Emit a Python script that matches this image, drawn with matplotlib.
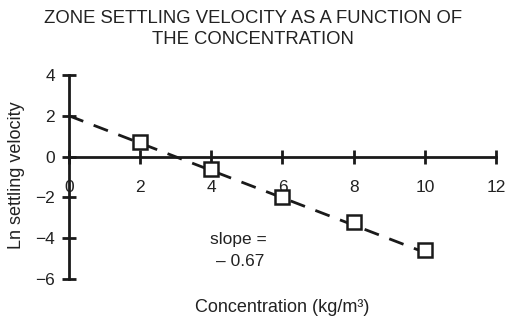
import matplotlib
matplotlib.use("Agg")
import matplotlib.pyplot as plt
import numpy as np

plt.rcParams['font.family'] = ['Liberation Sans', 'DejaVu Sans']

concentration = [2, 4, 6, 8, 10]
ln_velocity = [0.7, -0.6, -2.0, -3.2, -4.6]
fit_x = [0, 10]
fit_y = [2.0, -4.7]
x_ticks = [0, 2, 4, 6, 8, 10, 12]
y_ticks = [-6, -4, -2, 0, 2, 4]
y_tick_labels = ['\u22126', '\u22124', '\u22122', '0', '2', '4']

FS = 13
TC = '#222222'

fig = plt.figure(figsize=(5.06, 3.22), dpi=100)
W, H = 506, 322
ax = fig.add_axes([69 / W, 1 - 279 / H, (496 - 69) / W, (279 - 75) / H])
ax.set_xlim(0, 12)
ax.set_ylim(-6, 4)

ax.plot(fit_x, fit_y, color='#1a1a1a', lw=2, dashes=(5.5, 4), zorder=2)
ax.plot(concentration, ln_velocity, ls='none', marker='s', ms=10.5,
        mfc='white', mec='#1a1a1a', mew=1.8, zorder=3)

for s in ['top', 'right']:
    ax.spines[s].set_visible(False)
ax.spines['left'].set_position(('data', 0))
ax.spines['bottom'].set_position(('data', 0))
for s in ['left', 'bottom']:
    ax.spines[s].set_linewidth(2)
    ax.spines[s].set_color('#1a1a1a')

ax.set_xticks(x_ticks)
ax.set_yticks(y_ticks)
ax.set_yticklabels(y_tick_labels)
ax.tick_params(axis='both', direction='inout', length=10, width=2, color='#1a1a1a',
               labelsize=12.5, labelcolor=TC)
ax.tick_params(axis='x', pad=12)
ax.tick_params(axis='y', pad=5)

ax.text(4.75, -4.05, 'slope =', ha='center', va='center', fontsize=FS - 0.5, color=TC)
ax.text(4.8, -5.15, '\u2013 0.67', ha='center', va='center', fontsize=FS - 0.5, color=TC)

fig.text(253 / W, 1 - 23 / H, 'ZONE SETTLING VELOCITY AS A FUNCTION OF', ha='center', va='baseline',
         fontsize=13.3, color=TC)
fig.text(253 / W, 1 - 44 / H, 'THE CONCENTRATION', ha='center', va='baseline',
         fontsize=13.3, color=TC)
fig.text(282 / W, 1 - 312 / H, 'Concentration (kg/m\u00b3)', ha='center', va='baseline',
         fontsize=FS, color=TC)
fig.text(17 / W, 1 - 175 / H, 'Ln settling velocity', ha='center', va='center', rotation=90,
         fontsize=FS, color=TC)

fig.savefig('out.png', dpi=100)
